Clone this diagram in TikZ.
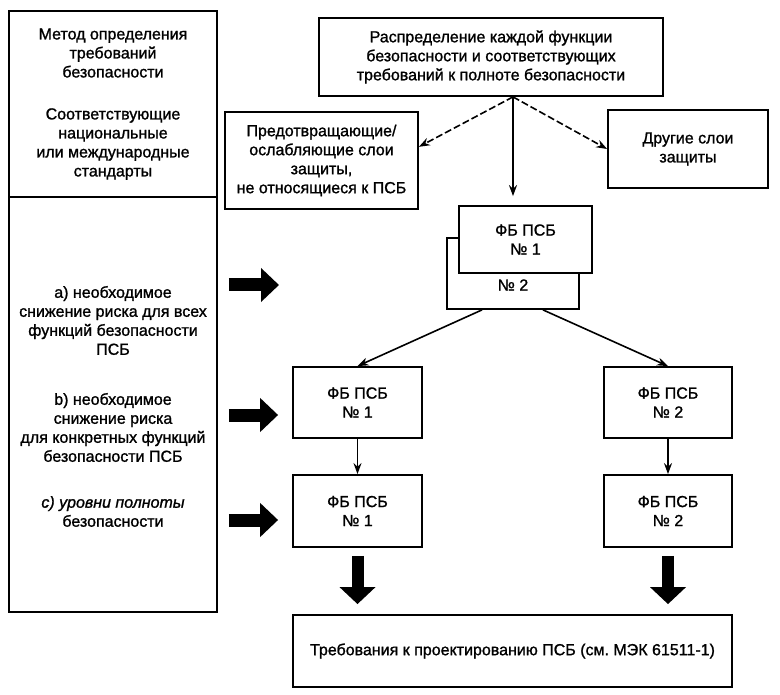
\documentclass[tikz,border=0pt]{standalone}
\usepackage{fontspec}
\setmainfont{Liberation Sans}[FakeBold=1.2]
\usetikzlibrary{arrows.meta,calc}
\begin{document}
\begin{tikzpicture}[x=1pt,y=-1pt,
  every node/.style={font=\fontsize{16}{19}\selectfont, align=center, inner sep=0pt},
  box/.style={draw, line width=1.8pt, fill=white},
  conn/.style={line width=1.6pt, -{Stealth[length=11pt,width=8pt]}},
  dconn/.style={conn, dash pattern=on 7pt off 3pt},
  blockd/.style={line width=12pt, -{Triangle[length=17pt,width=35pt]}},
  blockr/.style={line width=13pt, -{Triangle[length=18pt,width=33pt]}}
]
\useasboundingbox (0,0) rectangle (780,695);
% left column
\node[box, minimum width=208pt, minimum height=186pt] (lu) at (113,104) {};
\node[box, minimum width=208pt, minimum height=415pt] (ll) at (113,404.5) {};
\node (t1) at (113,53) {Метод определения\\требований\\безопасности};
\node (t2) at (113,144) {Соответствующие\\национальные\\или международные\\стандарты};
\node (ta) at (113,320.5) {а) необходимое\\снижение риска для всех\\функций безопасности\\ПСБ};
\node (tb) at (113,427.5) {b) необходимое\\снижение риска\\для конкретных функций\\безопасности ПСБ};
\node (tc) at (113,511.5) {\itshape с) уровни полноты\\безопасности};
% right part
\node[box, minimum width=344pt, minimum height=78pt] (top) at (491,57) {Распределение каждой функции\\безопасности и соответствующих\\требований к полноте безопасности};
\node[box, minimum width=193pt, minimum height=97pt] (prev) at (321.5,160.5) {Предотвращающие/\\ослабляющие слои\\защиты,\\не относящиеся к ПСБ};
\node[box, minimum width=160pt, minimum height=78pt] (other) at (688,149) {Другие слои\\защиты};
\node[box, minimum width=132pt, minimum height=71pt] (back) at (513,273.5) {};
\node (no2) at (513,285) {№ 2};
\node[box, minimum width=133pt, minimum height=67pt] (front) at (525.5,239.5) {ФБ ПСБ\\№ 1};
\node[box, minimum width=129pt, minimum height=71pt] (fb1b) at (357.5,402.5) {ФБ ПСБ\\№ 1};
\node[box, minimum width=128pt, minimum height=71pt] (fb2b) at (668,402.5) {ФБ ПСБ\\№ 2};
\node[box, minimum width=129pt, minimum height=72pt] (fb1c) at (357.5,511) {ФБ ПСБ\\№ 1};
\node[box, minimum width=128pt, minimum height=72pt] (fb2c) at (668,511) {ФБ ПСБ\\№ 2};
\node[box, minimum width=439pt, minimum height=72pt] (bot) at (512.5,651) {Требования к проектированию ПСБ (см.\ МЭК 61511-1)};
% connectors
\coordinate (o) at (top.south -| back.center);
\draw[dconn] (o) -- (prev.8);
\draw[dconn] (o) -- (other.west);
\draw[conn, line width=2pt, shorten >=9pt] (o) -- (o |- front.north);
\draw[conn] ($(back.south)+(-31,0)$) -- (fb1b.north);
\draw[conn] ($(back.south)+(30,0)$) -- (fb2b.north);
\draw[conn] (fb1b.south) -- (fb1c.north);
\draw[conn] (fb2b.south) -- (fb2c.north);
\draw[blockd, shorten <=8pt, shorten >=10pt] (fb1c.south) -- (fb1c.south |- bot.north);
\draw[blockd, shorten <=8pt, shorten >=10pt] (fb2c.south) -- (fb2c.south |- bot.north);
\coordinate (aS) at (ll.east |- 0,285);
\coordinate (aE) at (279,285);
\draw[blockr, shorten <=11pt] (aS) -- (aE);
\coordinate (bS) at (ll.east |- 0,415);
\draw[blockr, shorten <=11pt, shorten >=14pt] (bS) -- (fb1b.west |- bS);
\coordinate (cS) at (ll.east |- 0,520);
\draw[blockr, shorten <=11pt, shorten >=14pt] (cS) -- (fb1c.west |- cS);
\end{tikzpicture}
\end{document}
